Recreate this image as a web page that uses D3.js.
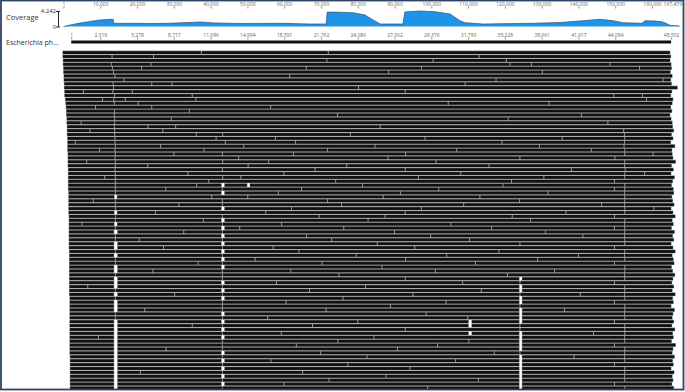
<!DOCTYPE html>
<html>
<head>
<meta charset="utf-8">
<script src="https://d3js.org/d3.v7.min.js"></script>
<style>
  body { margin: 0; background: #fff; }
  text { font-family: "Open Sans", sans-serif; }
</style>
</head>
<body>
<script>
// coverage profile, alignment position -> depth
const covPos = [1, 1800, 4500, 7200, 9900, 12600, 13500, 13700, 18900, 23500, 28900, 37100, 41200, 48000, 58900, 67000, 71400,
  71700, 75200, 78800, 82000, 84200, 86100, 92300, 92800, 96900, 101000, 105100, 107800, 109200, 114100, 127700, 135000,
  141300, 145900, 149100, 152100, 157300, 158100, 160800, 163000, 164900, 167479];
const covVal = [0, 410, 960, 1370, 1780, 1970, 1970, 880, 880, 820, 880, 1230, 960, 820, 880, 680, 680,
  3950, 3900, 3750, 3150, 1780, 680, 680, 3970, 4242, 4050, 3420, 1590, 1040, 680, 880, 1090,
  1590, 1970, 1640, 1040, 880, 1590, 1510, 1230, 330, 140];
const covMax = 4242;

const topTicks = [1, 10000, 20000, 30000, 40000, 50000, 60000, 70000, 80000, 90000, 100000, 110000, 120000,
  130000, 140000, 150000, 160000, 167479];
const seqTickPos = [2100, 10000, 20000, 30000, 40000, 50000, 60000, 70000, 80000, 90000, 100000, 110000, 120000,
  130000, 140000, 150000, 165200];
const seqTickLabels = ["1", "2,319", "5,279", "8,717", "11,696", "14,994", "18,591", "21,762", "24,086", "27,002",
  "29,376", "31,793", "35,228", "38,661", "41,617", "44,094", "48,502"];
const seqName = "Escherichia ph...";

// reads per stacked row (kb, alignment coords); inner arrays = contiguous runs, values = read boundaries
const readRows = [
  [[-0.3, 37.5, 72.0, 165.0]],
  [[-0.3, 13.2, 24.5, 113.0, 165.2]],
  [[-0.2, 71.6, 100.5, 120.4, 165.0]],
  [[-0.2, 13.0, 23.8, 121.4, 127.2, 148.6, 165.3]],
  [[-0.1, 13.3, 21.2, 66.0, 97.3, 156.6, 165.4]],
  [[-0.1, 13.6, 88.4, 130.2, 165.1]],
  [[0.0, 14.0, 61.5, 165.6]],
  [[0.0, 16.4, 117.6, 163.0, 165.2]],
  [[0.1, 13.5, 24.0, 29.5, 109.2, 165.4]],
  [[0.1, 13.6, 80.2, 167.0]],
  [[0.2, 5.4, 13.4, 18.7, 92.9, 165.5]],
  [[0.2, 13.9, 35.0, 149.6, 157.4, 165.2]],
  [[0.4, 10.6, 13.7, 16.8, 36.0, 158.5, 165.8]],
  [[0.5, 13.8, 20.3, 104.6, 132.0, 165.6]],
  [[0.6, 8.7, 24.0, 56.3, 165.2]],
  [[0.7, 13.9, 34.2, 165.5]],
  [[0.7, 13.8, 74.5, 140.8, 165.0]],
  [[0.8, 13.9, 29.3, 120.9, 165.3]],
  [[0.8, 4.8, 13.9, 148.0, 165.6]],
  [[0.9, 13.8, 23.0, 30.5, 86.1, 165.7]],
  [[0.9, 7.2, 13.9, 27.0, 152.3, 166.0]],
  [[0.9, 13.9, 36.1, 43.3, 78.0, 152.5, 165.4]],
  [[1.0, 14.0, 41.5, 57.6, 98.3, 135.6, 152.6, 165.8]],
  [[1.0, 3.2, 14.0, 44.0, 63.1, 119.2, 152.5, 165.2]],
  [[1.0, 14.1, 26.4, 49.0, 84.7, 129.4, 152.4, 166.3]],
  [[1.0, 9.8, 14.0, 38.2, 71.8, 106.9, 143.5, 152.6, 165.5]],
  [[1.1, 14.1, 30.0, 43.2, 62.5, 93.0, 152.6, 160.3, 165.6]],
  [[1.1, 14.0, 47.6, 88.2, 124.1, 149.9, 165.8]],
  [[1.1, 6.3, 14.1, 43.3, 55.8, 101.3, 152.6, 166.5]],
  [[1.1, 14.1, 22.9, 50.2, 77.0, 115.7, 152.5, 165.4]],
  [[1.2, 14.0, 43.2, 68.4, 92.9, 138.1, 152.7, 165.9]],
  [[1.2, 14.1, 33.8, 59.9, 108.0, 152.6, 158.0, 165.3]],
  [[1.2, 11.2, 14.1, 43.3, 48.2, 96.5, 130.6, 152.6, 166.2]],
  [[1.2, 14.1, 39.5, 74.0, 121.8, 149.8, 165.7]],
  [[1.2, 14.1, 36.2, 43.0], [43.7, 50.0], [50.6, 81.3, 119.5, 152.6, 165.4]],
  [[1.2, 14.1, 27.8, 43.2, 64.7, 102.0, 149.8, 152.6, 165.9]],
  [[1.3, 14.1, 43.0], [43.7, 58.4, 91.6, 131.7, 152.5, 166.0]],
  [[1.3, 13.9], [14.5, 40.3, 50.1, 86.9, 113.2, 152.6, 165.5]],
  [[1.3, 8.1, 14.1, 43.2, 71.8, 124.0, 152.6, 165.7]],
  [[1.3, 14.1, 31.4, 43.2, 75.6, 108.8, 146.3, 152.5, 166.1]],
  [[1.3, 14.1, 43.0], [43.7, 62.0, 97.3, 152.6, 160.5, 165.3]],
  [[1.3, 13.9], [14.5, 25.0, 55.0, 92.9, 136.6, 152.6, 165.8]],
  [[1.4, 14.1, 43.2, 69.5, 87.4, 122.0, 149.8, 166.4]],
  [[1.4, 14.1, 38.0, 43.0], [43.7, 82.8, 127.0, 152.6, 165.6]],
  [[1.4, 5.0, 13.9], [14.5, 43.2, 59.3, 105.3, 152.5, 165.9]],
  [[1.4, 14.1, 43.0], [43.7, 47.9, 76.2, 116.4, 149.8, 152.6, 165.4]],
  [[1.4, 13.8], [14.6, 32.7, 43.2, 90.0, 131.0, 152.6, 166.2]],
  [[1.4, 14.1, 43.0], [43.7, 66.1, 99.8, 141.2, 152.5, 165.7]],
  [[1.4, 14.1, 20.6, 43.2, 72.9, 110.4, 152.6, 166.0]],
  [[1.4, 13.8], [14.6, 43.0], [43.7, 85.3, 124.1, 152.6, 165.3]],
  [[1.4, 13.8], [14.6, 27.2, 43.2, 57.0, 95.5, 149.8, 165.8]],
  [[1.5, 14.1, 43.0], [43.7, 64.0, 118.4, 152.6, 166.4]],
  [[1.5, 13.8], [14.6, 43.2, 79.6, 104.2, 140.0, 152.5, 165.6]],
  [[1.5, 14.1, 43.0], [43.7, 52.1, 93.0, 128.9, 152.6, 165.9]],
  [[1.5, 14.1, 36.6, 43.2, 70.3, 112.0, 149.8, 166.1]],
  [[1.5, 13.8], [14.6, 43.0], [43.7, 86.6, 152.6, 165.4]],
  [[1.5, 13.8], [14.6, 24.3, 43.2, 61.8, 101.1, 133.5, 152.6, 165.7]],
  [[1.5, 14.1, 43.2, 74.9, 120.7, 152.5, 166.3]],
  [[1.5, 13.8], [14.6, 43.2, 92.9, 124.0], [124.6, 152.6, 165.8]],
  [[1.5, 13.8], [14.6, 43.0], [43.7, 57.9, 108.5, 124.1, 149.8, 165.5]],
  [[1.5, 6.6, 13.8], [14.6, 43.2, 82.1, 124.0], [124.6, 152.6, 166.0]],
  [[1.5, 14.1, 43.0], [43.7, 66.9, 113.6, 124.0], [124.6, 152.6, 165.6]],
  [[1.5, 13.8], [14.6, 30.2, 43.2, 95.0, 124.1, 140.5, 152.5, 166.4]],
  [[1.6, 14.1, 43.0], [43.7, 76.0, 124.0], [124.6, 152.6, 165.7]],
  [[1.6, 13.8], [14.6, 43.2, 60.5, 104.0, 124.0], [124.6, 149.8, 165.9]],
  [[1.6, 13.8], [14.6, 43.2, 88.9, 124.1, 152.6, 165.3]],
  [[1.6, 13.8], [14.6, 22.1, 43.2, 71.4, 124.0], [124.6, 136.2, 152.6, 166.2]],
  [[1.6, 14.1, 43.0], [43.7, 98.6, 124.0], [124.6, 152.5, 165.8]],
  [[1.6, 14.1, 43.2, 55.5, 109.9, 124.0], [124.6, 152.6, 165.6]],
  [[1.6, 13.8], [14.6, 43.0], [43.7, 80.0, 110.2], [110.9, 124.0], [124.6, 149.8, 166.0]],
  [[1.6, 13.8], [14.6, 35.0, 43.2, 67.7, 110.2], [110.9, 124.1, 152.6, 165.5]],
  [[1.6, 13.8], [14.6, 43.0], [43.7, 92.9, 124.1, 152.6, 166.3]],
  [[1.6, 13.8], [14.6, 43.2, 59.2, 110.2], [110.9, 124.0], [124.6, 144.1, 152.6, 165.7]],
  [[1.6, 9.5, 13.8], [14.6, 43.0], [43.7, 84.4, 124.0], [124.6, 152.5, 165.9]],
  [[1.6, 13.8], [14.6, 43.2, 74.6, 110.2, 124.0], [124.6, 152.6, 165.4]],
  [[1.6, 13.8], [14.6, 43.2, 63.3, 101.7, 124.0], [124.6, 149.8, 166.5]],
  [[1.6, 13.8], [14.6, 27.9, 43.2, 90.8, 124.0], [124.6, 152.6, 165.8]],
  [[1.6, 13.8], [14.6, 43.0], [43.7, 69.9, 117.1, 124.1, 152.6, 165.6]],
  [[1.7, 13.8], [14.6, 43.2, 82.5, 124.0], [124.6, 138.8, 152.5, 166.2]],
  [[1.7, 13.8], [14.6, 43.0], [43.7, 56.4, 106.6, 124.0], [124.6, 152.6, 165.7]],
  [[1.7, 13.8], [14.6, 43.2, 77.3, 124.0], [124.6, 149.8, 165.9]],
  [[1.7, 13.8], [14.6, 43.0], [43.7, 94.2, 124.0], [124.6, 152.6, 165.3]],
  [[1.7, 13.8], [14.6, 20.9, 43.2, 65.0, 124.0], [124.6, 152.6, 166.1]],
  [[1.7, 13.8], [14.6, 43.0], [43.7, 87.7, 124.0], [124.6, 152.5, 165.6]],
  [[1.7, 13.8], [14.6, 43.2, 72.2, 112.8, 124.0], [124.6, 152.6, 165.8]],
  [[1.7, 13.8], [14.6, 43.0], [43.7, 60.0, 124.0], [124.6, 149.8, 165.5]],
  [[1.7, 13.8], [14.6, 43.2, 99.0, 124.0], [124.6, 152.6, 166.0]]
];

const width = 685, height = 392;
const rowTop = 50.5, rowPitch = 3.9;

const svg = d3.select("body").append("svg")
  .attr("width", width)
  .attr("height", height);

const x = d3.scaleLinear().domain([1, 167479]).range([63.5, 679.5]);
const y = d3.scaleLinear().domain([0, covMax]).range([26.5, 11]);

// top position axis
const topAxis = svg.append("g")
  .attr("transform", "translate(0,8.5)")
  .call(d3.axisTop(x).tickValues(topTicks).tickSize(2).tickPadding(1)
    .tickFormat(d => d3.format(",")(d)));
topAxis.select(".domain").remove();
topAxis.selectAll("line").attr("stroke", "#888");
topAxis.selectAll("text").attr("fill", "#666").style("font-size", "5px");
topAxis.selectAll(".tick").filter(d => d == 167479).select("text").attr("text-anchor", "end").attr("dx", 2);
topAxis.selectAll(".tick").filter(d => d == 167479).select("line").remove();

// coverage area
const area = d3.area()
  .x((d, i) => x(covPos[i]))
  .y0(y(0))
  .y1(d => y(d));
svg.append("path")
  .datum(covVal)
  .attr("d", area)
  .attr("fill", "#1f93ea");
svg.append("path")
  .datum(covVal)
  .attr("d", area.lineY1())
  .attr("fill", "none")
  .attr("stroke", "#3b4d66")
  .attr("stroke-width", 0.7);

// coverage scale
const yAxis = svg.append("g")
  .attr("transform", "translate(58,0)")
  .call(d3.axisLeft(y).tickValues([0, covMax]).tickSizeInner(0).tickSizeOuter(2).tickPadding(2)
    .tickFormat(d3.format(",")));
yAxis.selectAll("text").attr("fill", "#333").style("font-size", "6px");
yAxis.select(".domain").attr("stroke", "#222");
svg.append("g")
  .attr("transform", "translate(58,0)")
  .call(d3.axisRight(y).tickValues([]).tickSizeOuter(2))
  .select(".domain").attr("stroke", "#222");

svg.append("text").attr("x", 6).attr("y", 20)
  .attr("fill", "#333").style("font-size", "7.5px").text("Coverage");

// reference sequence track
const seqAxis = svg.append("g")
  .attr("transform", "translate(0,39.5)")
  .call(d3.axisTop(x).tickValues(seqTickPos).tickSize(2).tickPadding(1)
    .tickFormat((d, i) => seqTickLabels[i]));
seqAxis.select(".domain").remove();
seqAxis.selectAll("line").attr("stroke", "#888");
seqAxis.selectAll("text").attr("fill", "#666").style("font-size", "5px");

svg.append("rect")
  .attr("x", x(seqTickPos[0]))
  .attr("y", 40.5)
  .attr("width", x(seqTickPos[seqTickPos.length - 1]) - x(seqTickPos[0]))
  .attr("height", 3)
  .attr("fill", "#111");

svg.append("text").attr("x", 6).attr("y", 44.5)
  .attr("fill", "#333").style("font-size", "7px").text(seqName);

// stacked reads
const rows = svg.append("g").selectAll("g")
  .data(readRows)
  .join("g")
  .attr("transform", (d, i) => `translate(0,${rowTop + i * rowPitch})`);

const runs = rows.selectAll("g")
  .data(d => d)
  .join("g");

runs.append("rect")
  .attr("x", d => x(d[0] * 1000))
  .attr("y", 0)
  .attr("width", d => x(d[d.length - 1] * 1000) - x(d[0] * 1000))
  .attr("height", rowPitch)
  .attr("fill", "#969696");

runs.selectAll(".read")
  .data(d => d3.pairs(d))
  .join("rect")
  .attr("class", "read")
  .attr("x", d => x(d[0] * 1000) + 0.5)
  .attr("y", 0.7)
  .attr("width", d => Math.max(0, x(d[1] * 1000) - x(d[0] * 1000) - 1))
  .attr("height", 2.8)
  .attr("fill", "#111");

// frame
svg.append("rect")
  .attr("x", 1).attr("y", 0.5)
  .attr("width", 682.5).attr("height", 389)
  .attr("fill", "none")
  .attr("stroke", "#2d4169")
  .attr("stroke-width", 1.8);
</script>
</body>
</html>
